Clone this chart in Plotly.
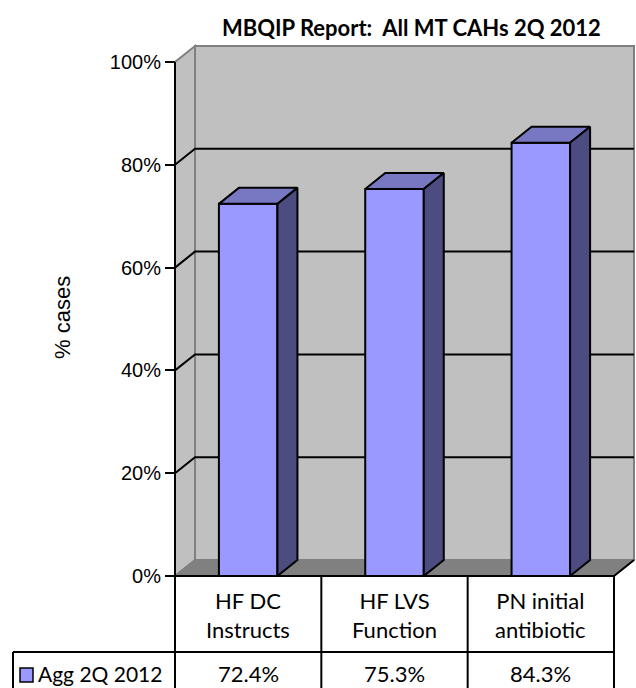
import plotly.graph_objects as go

# ---- data -------------------------------------------------------------
categories = ["HF DC<br>Instructs", "HF LVS<br>Function", "PN initial<br>antibiotic"]
series_name = "Agg 2Q 2012"
values = [72.4, 75.3, 84.3]
y_ticks = [0, 20, 40, 60, 80, 100]
grid_ticks = [20, 40, 60, 80]
chart_title = "MBQIP Report:\u00a0 All MT CAHs 2Q 2012"
y_title = "% cases"

# ---- frame ------------------------------------------------------------
W, H = 636, 688
X0_PX, COL_PX = 175.0, 146.33   # category axis origin and width of one category (px)
Y0_PX, PCT_PX = 576.0, 5.14     # 0% baseline and pixels per percent


def ux(px):
    return (px - X0_PX) / COL_PX


def uy(py):
    return (Y0_PX - py) / PCT_PX


DX = 20 / COL_PX        # 3-D depth along x (axis units)
DY = 16 / PCT_PX        # 3-D depth along y (axis units)
BAR_W = 0.4
n = len(values)
xs = [i + 0.5 for i in range(n)]

FRONT = "#9999FF"
TOP = "#7878C2"
SIDE = "#4C4C80"
WALL = "#C0C0C0"
FLOOR = "#808080"
EDGE = "#808080"

label_font = dict(family="Lato, Calibri, sans-serif", size=22, color="black")

fig = go.Figure()

# front faces of the columns
fig.add_trace(go.Bar(
    x=xs, y=values, width=BAR_W, name=series_name,
    marker=dict(color=FRONT, line=dict(color="black", width=2)),
    hoverinfo="skip", showlegend=False,
))

# top and side faces
for x, v in zip(xs, values):
    l, r = x - BAR_W / 2, x + BAR_W / 2
    fig.add_trace(go.Scatter(
        x=[l, r, r + DX, l + DX, l], y=[v, v, v + DY, v + DY, v],
        mode="lines", fill="toself", fillcolor=TOP,
        line=dict(color="black", width=2), hoverinfo="skip", showlegend=False,
    ))
    fig.add_trace(go.Scatter(
        x=[r, r + DX, r + DX, r, r], y=[0, DY, v + DY, v, 0],
        mode="lines", fill="toself", fillcolor=SIDE,
        line=dict(color="black", width=2), hoverinfo="skip", showlegend=False,
    ))

shapes = []
top = y_ticks[-1]
# back wall
shapes.append(dict(type="rect", x0=DX, x1=n + DX, y0=DY, y1=top + DY,
                   fillcolor=WALL, line=dict(color=EDGE, width=2), layer="below"))
# side wall
shapes.append(dict(type="path",
                   path=f"M 0 0 L 0 {top} L {DX} {top + DY} L {DX} {DY} Z",
                   fillcolor=WALL, line=dict(color=EDGE, width=2), layer="below"))
# floor
shapes.append(dict(type="path",
                   path=f"M 0 0 L {n} 0 L {n + DX} {DY} L {DX} {DY} Z",
                   fillcolor=FLOOR, line=dict(color=EDGE, width=1.5), layer="below"))
shapes.append(dict(type="line", x0=n, y0=0, x1=n + DX, y1=DY,
                   line=dict(color="black", width=2), layer="below"))
# gridlines on side and back walls
for t in grid_ticks:
    shapes.append(dict(type="path",
                       path=f"M 0 {t} L {DX} {t + DY} L {n + DX} {t + DY}",
                       line=dict(color="black", width=2), layer="below"))
# value axis line
shapes.append(dict(type="line", x0=0, y0=0, x1=0, y1=top,
                   line=dict(color="black", width=2), layer="above"))

# data table grid
y_bottom = uy(H) - 1
row_split = uy(652)
legend_left = ux(13)
shapes.append(dict(type="line", x0=0, y0=0, x1=n, y1=0,
                   line=dict(color="black", width=2), layer="above"))
for i in range(n + 1):
    shapes.append(dict(type="line", x0=i, y0=0, x1=i, y1=y_bottom,
                       line=dict(color="black", width=2), layer="above"))
shapes.append(dict(type="line", x0=legend_left, y0=row_split, x1=n, y1=row_split,
                   line=dict(color="black", width=2), layer="above"))
shapes.append(dict(type="line", x0=legend_left, y0=row_split, x1=legend_left, y1=y_bottom,
                   line=dict(color="black", width=2), layer="above"))
# legend key
shapes.append(dict(type="rect", x0=ux(20), x1=ux(33), y0=uy(682), y1=uy(668),
                   fillcolor=FRONT, line=dict(color="black", width=1.5), layer="above"))

annotations = []
for x, c in zip(xs, categories):
    annotations.append(dict(x=x, y=uy(614.5), text=c, showarrow=False,
                            font=label_font, xanchor="center", yanchor="middle"))
for x, v in zip(xs, values):
    annotations.append(dict(x=x, y=uy(673), text=f"{v:.1f}%", showarrow=False,
                            font=label_font, xanchor="center", yanchor="middle"))
annotations.append(dict(x=ux(36), y=uy(673), text=series_name, showarrow=False,
                        font=dict(family="Lato, Calibri, sans-serif", size=21, color="black"),
                        xanchor="left", yanchor="middle"))
annotations.append(dict(x=411 / W, y=1 - 28 / H, xref="paper", yref="paper",
                        text=f"<b>{chart_title}</b>", showarrow=False,
                        font=dict(family="Lato, Calibri, sans-serif", size=22, color="black"),
                        xanchor="center", yanchor="middle"))
annotations.append(dict(x=ux(62), y=uy(318), text=y_title, showarrow=False,
                        textangle=-90,
                        font=dict(family="Liberation Sans, Arial, sans-serif", size=22, color="black"),
                        xanchor="center", yanchor="middle"))

fig.update_layout(
    width=W, height=H,
    margin=dict(l=0, r=0, t=0, b=0, pad=0),
    paper_bgcolor="white", plot_bgcolor="white",
    showlegend=False,
    xaxis=dict(range=[ux(0), ux(W)], visible=False, fixedrange=True),
    yaxis=dict(range=[uy(H), uy(0)], anchor="free", position=X0_PX / W,
               tickmode="array", tickvals=y_ticks,
               ticktext=[f"{t}%" for t in y_ticks],
               ticks="outside", ticklen=10,
               tickwidth=2, tickcolor="black", showgrid=False, zeroline=False,
               showline=False, fixedrange=True,
               tickfont=dict(family="Liberation Sans, Arial, sans-serif", size=20,
                             color="black")),
    shapes=shapes,
    annotations=annotations,
)

fig.write_html("out.html")
